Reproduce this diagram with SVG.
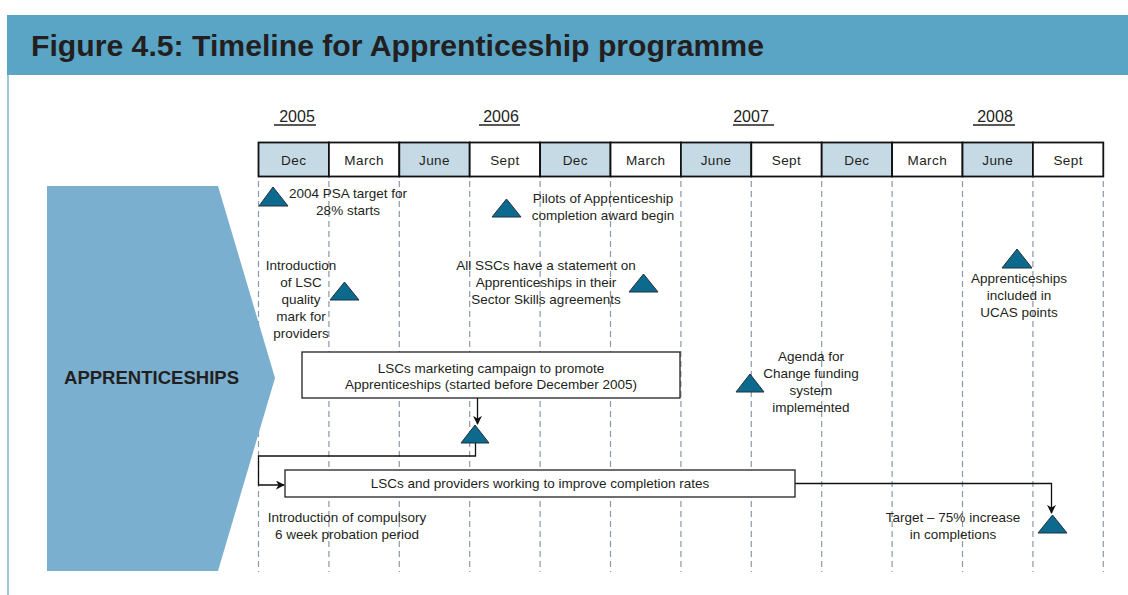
<svg xmlns="http://www.w3.org/2000/svg" width="1128" height="595" viewBox="0 0 1128 595">
<defs>
<style>
text{font-family:"Liberation Sans",Arial,sans-serif;fill:#231f20}
.t{font-size:13.5px;text-anchor:middle}
.m{font-size:13.5px;text-anchor:middle;letter-spacing:0.4px}
.y{font-size:16px;text-anchor:middle}
.ul{stroke:#231f20;stroke-width:1.4}
.cb{fill:#c6dae6;stroke:#111;stroke-width:1.8}
.cw{fill:#fff;stroke:#111;stroke-width:1.8}
.gd{stroke:#8d98a8;stroke-width:1.2;stroke-dasharray:6 4;fill:none}
.tri{fill:#0b6a8e;stroke:#23313a;stroke-width:1}
.box{fill:#fff;stroke:#231f20;stroke-width:1.3}
.con{fill:none;stroke:#111;stroke-width:1.3}
</style>
<marker id="ah" viewBox="0 0 10 10" refX="9" refY="5" markerWidth="9" markerHeight="9" markerUnits="userSpaceOnUse" orient="auto">
<path d="M0,0 L10,5 L0,10 L3,5 z" fill="#111"/>
</marker>
</defs>
<rect width="1128" height="595" fill="#fff"/>
<g id="header">
<rect x="7" y="15" width="1121" height="60" fill="#5aa4c6"/>
<line x1="8" y1="75" x2="8" y2="595" stroke="#7db5d3" stroke-width="1.5"/>
<text x="31" y="56" font-size="29" font-weight="bold" textLength="733" lengthAdjust="spacingAndGlyphs">Figure 4.5: Timeline for Apprenticeship programme</text>
</g>
<g id="years">
<text class="y" x="297" y="122">2005</text><line class="ul" x1="274" y1="125" x2="316" y2="125"/>
<text class="y" x="501" y="122">2006</text><line class="ul" x1="479" y1="125" x2="520" y2="125"/>
<text class="y" x="751" y="122">2007</text><line class="ul" x1="733" y1="125" x2="774" y2="125"/>
<text class="y" x="995" y="122">2008</text><line class="ul" x1="973" y1="125" x2="1015" y2="125"/>
</g>
<g id="gridlines">
<line class="gd" x1="258.5" y1="181" x2="258.5" y2="572"/>
<line class="gd" x1="328.9" y1="181" x2="328.9" y2="572"/>
<line class="gd" x1="399.3" y1="181" x2="399.3" y2="572"/>
<line class="gd" x1="469.7" y1="181" x2="469.7" y2="572"/>
<line class="gd" x1="540.1" y1="181" x2="540.1" y2="572"/>
<line class="gd" x1="610.5" y1="181" x2="610.5" y2="572"/>
<line class="gd" x1="680.9" y1="181" x2="680.9" y2="572"/>
<line class="gd" x1="751.3" y1="181" x2="751.3" y2="572"/>
<line class="gd" x1="821.7" y1="181" x2="821.7" y2="572"/>
<line class="gd" x1="892.1" y1="181" x2="892.1" y2="572"/>
<line class="gd" x1="962.5" y1="181" x2="962.5" y2="572"/>
<line class="gd" x1="1032.9" y1="181" x2="1032.9" y2="572"/>
<line class="gd" x1="1103.3" y1="181" x2="1103.3" y2="572"/>
</g>
<g id="months">
<rect class="cb" x="258.5" y="142.5" width="70.4" height="34"/><text class="m" x="293.7" y="165">Dec</text>
<rect class="cw" x="328.9" y="142.5" width="70.4" height="34"/><text class="m" x="364.1" y="165">March</text>
<rect class="cb" x="399.3" y="142.5" width="70.4" height="34"/><text class="m" x="434.5" y="165">June</text>
<rect class="cw" x="469.7" y="142.5" width="70.4" height="34"/><text class="m" x="504.9" y="165">Sept</text>
<rect class="cb" x="540.1" y="142.5" width="70.4" height="34"/><text class="m" x="575.3" y="165">Dec</text>
<rect class="cw" x="610.5" y="142.5" width="70.4" height="34"/><text class="m" x="645.7" y="165">March</text>
<rect class="cb" x="680.9" y="142.5" width="70.4" height="34"/><text class="m" x="716.1" y="165">June</text>
<rect class="cw" x="751.3" y="142.5" width="70.4" height="34"/><text class="m" x="786.5" y="165">Sept</text>
<rect class="cb" x="821.7" y="142.5" width="70.4" height="34"/><text class="m" x="856.9" y="165">Dec</text>
<rect class="cw" x="892.1" y="142.5" width="70.4" height="34"/><text class="m" x="927.3" y="165">March</text>
<rect class="cb" x="962.5" y="142.5" width="70.4" height="34"/><text class="m" x="997.7" y="165">June</text>
<rect class="cw" x="1032.9" y="142.5" width="70.4" height="34"/><text class="m" x="1068.1" y="165">Sept</text>
</g>
<g id="apprenticeships">
<polygon points="47,186 218,186 275,378 218,571 47,571" fill="#7bafcf"/>
<text x="64" y="384" font-size="18" font-weight="bold" textLength="175" lengthAdjust="spacingAndGlyphs">APPRENTICESHIPS</text>
</g>
<g id="connectors">
<line class="con" x1="477.5" y1="398" x2="477.5" y2="424" marker-end="url(#ah)"/>
<polyline class="con" points="475.5,443 475.5,456 258.5,456 258.5,485 284,485" marker-end="url(#ah)"/>
<polyline class="con" points="795,483.5 1051.5,483.5 1051.5,513" marker-end="url(#ah)"/>
</g>
<g id="psa2004">
<polygon class="tri" points="273,187 259,206 288,206"/>
<text class="t" x="348" y="198">2004 PSA target for</text>
<text class="t" x="348" y="215">28% starts</text>
</g>
<g id="pilots">
<polygon class="tri" points="506.5,199 492,217 521,217"/>
<text class="t" x="603" y="203">Pilots of Apprenticeship</text>
<text class="t" x="603" y="220">completion award begin</text>
</g>
<g id="quality">
<polygon class="tri" points="344.5,282 330,300 359,300"/>
<text class="t" x="301" y="270">Introduction</text>
<text class="t" x="301" y="287">of LSC</text>
<text class="t" x="301" y="304">quality</text>
<text class="t" x="301" y="321">mark for</text>
<text class="t" x="301" y="338">providers</text>
</g>
<g id="sscs">
<polygon class="tri" points="643.5,274 629,292 658,292"/>
<text class="t" x="546" y="270">All SSCs have a statement on</text>
<text class="t" x="546" y="287">Apprenticeships in their</text>
<text class="t" x="546" y="304">Sector Skills agreements</text>
</g>
<g id="ucas">
<polygon class="tri" points="1017,249 1002,268 1032,268"/>
<text class="t" x="1019" y="283">Apprenticeships</text>
<text class="t" x="1019" y="300">included in</text>
<text class="t" x="1019" y="317">UCAS points</text>
</g>
<g id="agenda">
<polygon class="tri" points="750,374 736,392 764,392"/>
<text class="t" x="811" y="361">Agenda for</text>
<text class="t" x="811" y="378">Change funding</text>
<text class="t" x="811" y="395">system</text>
<text class="t" x="811" y="412">implemented</text>
</g>
<g id="marketing">
<rect class="box" x="302" y="352" width="378" height="46"/>
<text class="t" x="491" y="373">LSCs marketing campaign to promote</text>
<text class="t" x="491" y="389">Apprenticeships (started before December 2005)</text>
</g>
<g id="milestone">
<polygon class="tri" points="475,425 461,443 489,443"/>
</g>
<g id="completion">
<rect class="box" x="285" y="470" width="510" height="27"/>
<text class="t" x="540" y="488">LSCs and providers working to improve completion rates</text>
</g>
<g id="probation">
<text class="t" x="347" y="522">Introduction of compulsory</text>
<text class="t" x="347" y="539">6 week probation period</text>
</g>
<g id="target">
<polygon class="tri" points="1052.5,515 1038,533 1067,533"/>
<text class="t" x="953" y="522">Target – 75% increase</text>
<text class="t" x="953" y="539">in completions</text>
</g>
</svg>
